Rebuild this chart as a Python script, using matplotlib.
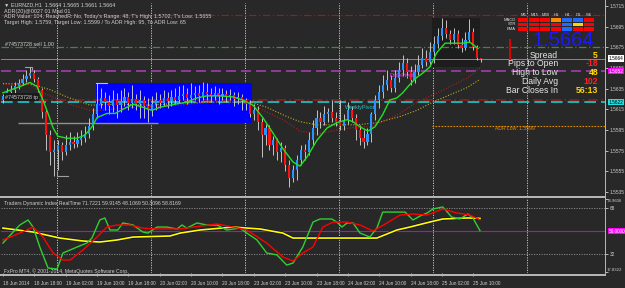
import numpy as np
import matplotlib
matplotlib.use('Agg')
import matplotlib.pyplot as plt
import matplotlib.transforms as mtransforms
from matplotlib.patches import Rectangle

plt.rcParams['font.family'] = ['Liberation Sans', 'DejaVu Sans']

# ========== 数据 ==========
time_labels = ['18 Jun 2014', '18 Jun 18:00', '19 Jun 02:00', '19 Jun 10:00', '19 Jun 18:00',
               '20 Jun 02:00', '20 Jun 10:00', '20 Jun 18:00', '23 Jun 02:00', '23 Jun 10:00',
               '23 Jun 18:00', '24 Jun 02:00', '24 Jun 10:00', '24 Jun 18:00', '25 Jun 02:00',
               '25 Jun 10:00']
time_label_bars = [0, 8, 16, 24, 32, 40, 48, 56, 64, 72, 80, 88, 96, 104, 112, 120]
day_start_bars = [14, 38, 62, 86, 110, 134]

first_open = 1.5624
closes = [1.5628, 1.5632, 1.5634, 1.5638, 1.5640, 1.5644, 1.5647, 1.5650, 1.5644, 1.5634,
          1.5612, 1.5590, 1.5574, 1.5576, 1.5580, 1.5574, 1.5580, 1.5583, 1.5581, 1.5585,
          1.5587, 1.5591, 1.5599, 1.5610, 1.5620, 1.5626, 1.5622, 1.5618, 1.5624, 1.5619,
          1.5623, 1.5627, 1.5621, 1.5625, 1.5620, 1.5624, 1.5618, 1.5614, 1.5620, 1.5624,
          1.5621, 1.5626, 1.5623, 1.5627, 1.5624, 1.5628, 1.5630, 1.5626, 1.5629, 1.5631,
          1.5628, 1.5632, 1.5630, 1.5628, 1.5631, 1.5628, 1.5630, 1.5627, 1.5629, 1.5625,
          1.5627, 1.5624, 1.5620, 1.5610, 1.5614, 1.5603, 1.5590, 1.5597, 1.5580, 1.5585,
          1.5574, 1.5578, 1.5561, 1.5549, 1.5556, 1.5566, 1.5576, 1.5574, 1.5585, 1.5597,
          1.5607, 1.5603, 1.5610, 1.5612, 1.5607, 1.5603, 1.5599, 1.5605, 1.5614, 1.5607,
          1.5595, 1.5587, 1.5583, 1.5591, 1.5610, 1.5624, 1.5632, 1.5639, 1.5643, 1.5636,
          1.5645, 1.5653, 1.5660, 1.5651, 1.5643, 1.5651, 1.5658, 1.5665, 1.5661, 1.5670,
          1.5678, 1.5686, 1.5694, 1.5688, 1.5682, 1.5688, 1.5677, 1.5674, 1.5682, 1.5690,
          1.5675, 1.5665, 1.5664]
highs = [1.5630, 1.5636, 1.5639, 1.5641, 1.5644, 1.5649, 1.5653, 1.5656, 1.5653, 1.5646,
         1.5636, 1.5614, 1.5595, 1.5585, 1.5585, 1.5583, 1.5590, 1.5593, 1.5589, 1.5593,
         1.5595, 1.5599, 1.5607, 1.5616, 1.5640, 1.5636, 1.5632, 1.5629, 1.5634, 1.5631,
         1.5634, 1.5636, 1.5632, 1.5639, 1.5630, 1.5634, 1.5628, 1.5626, 1.5628, 1.5632,
         1.5630, 1.5634, 1.5632, 1.5634, 1.5636, 1.5638, 1.5639, 1.5636, 1.5640, 1.5638,
         1.5639, 1.5641, 1.5640, 1.5636, 1.5638, 1.5636, 1.5636, 1.5634, 1.5635, 1.5632,
         1.5632, 1.5630, 1.5626, 1.5624, 1.5620, 1.5618, 1.5607, 1.5601, 1.5600, 1.5589,
         1.5587, 1.5583, 1.5580, 1.5566, 1.5561, 1.5571, 1.5580, 1.5581, 1.5593, 1.5605,
         1.5614, 1.5612, 1.5618, 1.5616, 1.5624, 1.5612, 1.5624, 1.5610, 1.5622, 1.5618,
         1.5610, 1.5600, 1.5595, 1.5597, 1.5612, 1.5629, 1.5639, 1.5648, 1.5653, 1.5648,
         1.5653, 1.5661, 1.5668, 1.5665, 1.5657, 1.5659, 1.5668, 1.5674, 1.5672, 1.5680,
         1.5686, 1.5694, 1.5703, 1.5701, 1.5692, 1.5694, 1.5692, 1.5684, 1.5690, 1.5702,
         1.5694, 1.5677, 1.5665]
lows = [1.5621, 1.5626, 1.5629, 1.5631, 1.5635, 1.5639, 1.5641, 1.5645, 1.5641, 1.5632,
        1.5607, 1.5576, 1.5561, 1.5550, 1.5556, 1.5566, 1.5571, 1.5576, 1.5578, 1.5579,
        1.5580, 1.5583, 1.5587, 1.5595, 1.5607, 1.5616, 1.5614, 1.5610, 1.5612, 1.5607,
        1.5612, 1.5618, 1.5614, 1.5616, 1.5614, 1.5607, 1.5607, 1.5603, 1.5609, 1.5614,
        1.5616, 1.5618, 1.5616, 1.5618, 1.5620, 1.5621, 1.5624, 1.5620, 1.5622, 1.5624,
        1.5622, 1.5624, 1.5624, 1.5622, 1.5624, 1.5620, 1.5624, 1.5622, 1.5624, 1.5618,
        1.5620, 1.5614, 1.5614, 1.5608, 1.5605, 1.5595, 1.5569, 1.5580, 1.5576, 1.5571,
        1.5566, 1.5564, 1.5555, 1.5540, 1.5545, 1.5547, 1.5561, 1.5566, 1.5571, 1.5580,
        1.5590, 1.5597, 1.5600, 1.5603, 1.5603, 1.5599, 1.5595, 1.5595, 1.5601, 1.5603,
        1.5585, 1.5580, 1.5578, 1.5580, 1.5583, 1.5605, 1.5616, 1.5626, 1.5634, 1.5632,
        1.5632, 1.5641, 1.5647, 1.5645, 1.5639, 1.5640, 1.5648, 1.5655, 1.5657, 1.5657,
        1.5660, 1.5674, 1.5682, 1.5684, 1.5678, 1.5678, 1.5674, 1.5670, 1.5672, 1.5680,
        1.5672, 1.5663, 1.5661]

# 均线（读图取点）
ma_fast_bars = [0, 4.3, 6.9, 8.7, 10.2, 11.5, 12.8, 14.0, 16.3, 18.9, 20.9, 22.7, 24.0, 26.5,
                28.6, 30.6, 33.2, 35.7, 38.0, 40.1, 42.6, 46.9, 49.5, 52.0, 55.4, 58.7, 61.2,
                63.8, 66.3, 68.9, 71.4, 74.0, 75.8, 77.6, 80.1, 82.7, 85.2, 87.8, 89.3, 91.1,
                93.1, 94.9, 96.9, 98.7, 100.5, 102.0, 103.8, 105.6, 107.1, 108.9, 110.7, 112.8,
                114.8, 117.3, 119.1, 121.2]
ma_fast = [1.5631, 1.5637, 1.5641, 1.5637, 1.5624, 1.5611, 1.5597, 1.5589, 1.5587, 1.5587,
           1.5590, 1.5598, 1.5607, 1.5611, 1.5611, 1.5615, 1.5620, 1.5617, 1.5614, 1.5617,
           1.5619, 1.5622, 1.5626, 1.5628, 1.5628, 1.5627, 1.5624, 1.5619, 1.5607, 1.5592,
           1.5577, 1.5564, 1.5560, 1.5569, 1.5585, 1.5597, 1.5602, 1.5605, 1.5603, 1.5598,
           1.5594, 1.5598, 1.5610, 1.5624, 1.5626, 1.5631, 1.5639, 1.5646, 1.5650, 1.5656,
           1.5670, 1.5679, 1.5679, 1.5679, 1.5680, 1.5674]
ma_mid_bars = [0, 6.9, 10.2, 16.3, 22.2, 24.7, 33.2, 41.8, 50.3, 58.7, 64.8, 71.4, 75.8, 80.1,
               85.2, 90.3, 93.6, 96.9, 101.3, 105.6, 109.7, 114.0, 118.4, 121.7]
ma_mid = [1.5639, 1.5639, 1.5631, 1.5621, 1.5614, 1.5614, 1.5617, 1.5618, 1.5621, 1.5624,
          1.5617, 1.5605, 1.5594, 1.5591, 1.5595, 1.5598, 1.5598, 1.5603, 1.5611, 1.5622,
          1.5629, 1.5637, 1.5645, 1.5655]
ma_slow_bars = [0, 7.7, 12.0, 16.3, 22.2, 29.1, 37.5, 45.9, 54.6, 63.0, 67.3, 72.4, 75.8, 80.1,
                85.2, 90.3, 95.4, 101.3, 105.6, 109.7, 114.0, 118.4, 121.7]
ma_slow = [1.5640, 1.5639, 1.5634, 1.5627, 1.5619, 1.5620, 1.5619, 1.5621, 1.5622, 1.5622,
           1.5617, 1.5608, 1.5603, 1.5600, 1.5600, 1.5600, 1.5602, 1.5608, 1.5614, 1.5622,
           1.5629, 1.5636, 1.5644]

# 水平线
stop_loss = 1.5706
sell_open = 1.5675
last_price = 1.5664
daily_pivot = 1.5652
take_profit = 1.5624
weekly_pivot = 1.5622
adr_low = 1.5599
price_ticks = [1.5715, 1.5695, 1.5675, 1.5655, 1.5635, 1.5615, 1.5595, 1.5575, 1.5555, 1.5535]

# TDI 指标
tdi_max = 74.9606
tdi_min = 17.8322
tdi_levels = [68, 32]
tdi_green_bars = [0, 2.6, 4.3, 6.4, 7.7, 9.4, 11.5, 13.8, 15.3, 18.9, 21.4, 22.7, 24.7, 26.0,
                  27.3, 29.3, 30.6, 33.2, 35.7, 37.0, 39.3, 41.8, 44.4, 45.7, 46.9, 49.5, 52.0,
                  54.6, 57.1, 60.5, 62.2, 64.8, 67.3, 69.9, 72.4, 74.0, 76.5, 79.1, 80.9, 83.9,
                  85.2, 86.5, 87.8, 89.3, 91.1, 93.6, 95.4, 96.9, 98.7, 102.6, 104.6, 106.4,
                  108.2, 109.7, 112.2, 114.5, 116.6, 118.6, 119.9, 121.7]
tdi_green = [40.6, 49.2, 54.7, 58.6, 53.1, 37.5, 21.1, 20.3, 32.8, 37.5, 40.6, 44.5, 58.6, 60.2,
             50.8, 50.8, 56.3, 54.7, 49.2, 48.4, 53.1, 53.1, 51.6, 54.7, 52.3, 56.3, 54.7, 54.7,
             50.8, 52.3, 48.4, 43.0, 32.8, 31.3, 23.4, 25.0, 37.5, 57.0, 59.4, 59.4, 57.0, 53.1,
             56.3, 56.3, 48.4, 45.3, 52.3, 64.8, 64.8, 64.8, 58.6, 61.7, 64.1, 67.2, 68.8, 60.9,
             59.4, 63.3, 60.2, 50.3]
tdi_red_bars = [0, 4.3, 7.7, 10.2, 12.8, 15.3, 17.1, 20.4, 24.0, 26.5, 29.1, 32.4, 35.7, 39.3,
                45.2, 48.5, 54.6, 58.7, 62.2, 67.3, 71.4, 74.0, 76.5, 79.1, 81.6, 84.2, 87.8,
                91.1, 94.4, 98.0, 101.3, 104.6, 108.2, 112.2, 115.8, 119.1, 121.7]
tdi_red = [43.0, 48.4, 53.1, 45.3, 32.8, 27.3, 27.3, 35.2, 45.3, 53.1, 54.7, 54.7, 52.3, 51.6,
           51.6, 53.1, 55.5, 53.1, 50.8, 40.6, 29.7, 26.6, 32.8, 37.5, 53.1, 57.0, 57.0, 54.7,
           50.0, 56.3, 62.5, 63.3, 62.5, 67.2, 64.1, 62.5, 58.8]
tdi_yellow_bars = [0, 7.7, 14.5, 20.4, 24.7, 29.1, 33.2, 42.6, 45.2, 50.3, 58.7, 65.6, 71.4,
                   74.0, 80.9, 95.4, 100.5, 103.8, 108.9, 112.2, 118.4, 121.7]
tdi_yellow = [52.3, 49.2, 44.5, 42.2, 41.4, 43.0, 45.3, 46.1, 48.4, 50.8, 53.1, 51.6, 48.4, 44.5,
              44.5, 44.5, 50.8, 53.1, 57.0, 59.4, 60.2, 59.9]

# 右侧面板
tf_names = ['M5', 'M15', 'M30', 'H1', 'H4', 'D1', 'W1']
tf_rows = ['MACD', 'STR', 'EMA']
tf_colors = [['#ff0000', '#ff0000', '#ff0000', '#ff8c00', '#1e6bff', '#1e6bff', '#ff0000'],
             ['#ff0000', '#ff0000', '#ff0000', '#ff0000', '#1e6bff', '#ffd700', '#ff0000'],
             ['#ff0000', '#ff0000', '#ff0000', '#ff0000', '#1e6bff', '#ff0000', '#ff0000']]
info_names = ['Spread', 'Pips to Open', 'High to Low', 'Daily Avg', 'Bar Closes In']
info_values = ['5', '-18', '48', '102', '56:13']
info_colors = ['#ffd700', '#ff2020', '#ffd700', '#ff2020', '#ffd700']

# ========== 绘图 ==========
W, H = 625, 288
BG = '#282828'
TXT = '#d0d0d0'
SMALL = 3.4

fig = plt.figure(figsize=(W / 100, H / 100), dpi=100, facecolor=BG)


def px_axes(x0, y0, x1, y1):
    return fig.add_axes([x0 / W, 1 - y1 / H, (x1 - x0) / W, (y1 - y0) / H])


def ftext(x, y, s, **kw):
    kw.setdefault('color', TXT)
    kw.setdefault('fontsize', 3.9)
    kw.setdefault('va', 'center')
    return fig.text(x / W, 1 - y / H, s, **kw)


ax = px_axes(1, 3, 605, 196)
ax2 = px_axes(1, 198, 605, 273)
for a in (ax, ax2):
    a.set_facecolor(BG)
    for s in a.spines.values():
        s.set_visible(False)
    a.set_xlim(-0.5, 153.6)
ax.set_ylim(1.55311, 1.57179)
ax2.set_ylim(17.2, 75.8)

# 网格竖线
for b in day_start_bars:
    for a in (ax, ax2):
        a.axvline(b - 0.2, color='#d8d8d8', lw=0.6, ls=(0, (1.5, 1.5)), zorder=1)

# 蓝色矩形和暗色框
ax.add_patch(Rectangle((23.7, 1.5602), 39.8, 0.0038, color='#0000ff', zorder=1.5, lw=0))
ax.add_patch(Rectangle((109.4, 1.5656), 12.3, 0.0047, color='#1d1d1d', zorder=1.2, lw=0))
ax.hlines(1.5602, 3.8, 39.5, color='#909090', lw=1.0, zorder=2)
ax.plot([5.6, 7.4, 7.4], [1.5656, 1.5656, 1.5652], color='#a0a0a0', lw=0.8, zorder=2)
ax.plot([13.8, 13.8, 16.6], [1.5554, 1.5550, 1.5550], color='#a0a0a0', lw=0.8, zorder=2)
ax.plot([23.7, 26.5], [1.5640, 1.5640], color='#c0c0c0', lw=0.8, zorder=2)

# 水平线
ax.axhline(stop_loss, color='#a01818', lw=0.9, ls=(0, (6, 2, 1, 2)), zorder=2)
ax.axhline(sell_open, color='#3c8a3c', lw=0.9, ls=(0, (6, 2, 1, 2)), zorder=2)
ax.axhline(last_price, color='#8a8a8a', lw=0.7, zorder=2)
ax.axhline(daily_pivot, color='#a040a8', lw=1.2, ls=(0, (6, 3)), zorder=2)
ax.axhline(take_profit, color='#8a1e1e', lw=1.2, ls=(0, (6, 2, 1, 2)), zorder=2)
ax.axhline(weekly_pivot, color='#20c8c8', lw=1.2, ls=(0, (7, 3)), zorder=2)
ax.hlines(adr_low, 109.4, 154, color='#e08a00', lw=0.8, ls=(0, (1.5, 1.2)), zorder=2)
ax.vlines(129.3, 1.5661, 1.5683, color='#e00000', lw=1.4, zorder=2)

# 均线
ax.plot(ma_slow_bars, ma_slow, color='#b8b020', lw=0.8, ls=(0, (1, 1.5)), zorder=2.5)
ax.plot(ma_mid_bars, ma_mid, color='#b02020', lw=0.8, ls=(0, (1, 1.5)), zorder=2.5)

# K线
o = np.array([first_open] + closes[:-1])
c = np.array(closes)
idx = np.arange(len(c))
up = c > o
dn = c < o
ax.vlines(idx, lows, highs, color='#c4c4c4', lw=0.7, zorder=3)
ax.bar(idx[up], (c - o)[up], bottom=o[up], width=0.55, color='#2894ff', lw=0, zorder=4)
ax.bar(idx[dn], (c - o)[dn], bottom=o[dn], width=0.55, color='#ff1010', lw=0, zorder=4)
dj = c == o
ax.hlines(c[dj], idx[dj] - 0.4, idx[dj] + 0.4, color='#00ff00', lw=1.0, zorder=4)

ax.plot(ma_fast_bars, ma_fast, color='#22e022', lw=1.0, zorder=5)

# 图上文字
ax.text(87.2, 1.5617, 'WeeklyPivot', color='#20c8c8', fontsize=4.0, va='center', zorder=6)
ax.text(98.5, 1.5648, 'DailyPivot', color='#e040e0', fontsize=4.0, va='center', zorder=6)
ax.text(125.5, 1.5596, 'ADR Low: 1.5599', color='#e08a00', fontsize=3.7, va='center', zorder=6)

# 右侧价格刻度
ax.yaxis.tick_right()
ax.set_yticks(price_ticks)
ax.set_yticklabels([f'{p:.4f}' for p in price_ticks])
ax.tick_params(axis='y', colors=TXT, labelsize=SMALL, length=2, width=0.6, pad=1.2)
ax.tick_params(axis='x', bottom=False, labelbottom=False)
tr = mtransforms.blended_transform_factory(ax.transAxes, ax.transData)
for val, fc, tc in [(last_price, '#ffffff', '#000000'), (daily_pivot, '#ff00ff', '#ffffff'),
                    (weekly_pivot, '#20e0e0', '#000000')]:
    ax.text(1.0055, val, f'{val:.4f}', transform=tr, fontsize=SMALL, color=tc, va='center',
            bbox=dict(boxstyle='square,pad=0.15', fc=fc, ec='none'), clip_on=False, zorder=10)

# 指标窗口
for lv in tdi_levels:
    ax2.axhline(lv, color='#909090', lw=0.6, ls=(0, (1.5, 1.5)))
ax2.axhline(50, color='#c800c8', lw=0.8)
ax2.plot(tdi_yellow_bars, tdi_yellow, color='#101030', lw=2.2, zorder=3)
ax2.plot(tdi_yellow_bars, tdi_yellow, color='#ffff00', lw=1.2, zorder=3.1)
ax2.plot(tdi_green_bars, tdi_green, color='#30d030', lw=1.0, zorder=4)
ax2.plot(tdi_red_bars, tdi_red, color='#ff0000', lw=1.0, zorder=4)
ax2.yaxis.tick_right()
ax2.set_yticks([tdi_max] + tdi_levels + [tdi_min])
ax2.set_yticklabels([''] + [str(v) for v in tdi_levels] + [''])
ax2.tick_params(axis='y', colors=TXT, labelsize=SMALL, length=2, width=0.6, pad=1.2)
tr2 = mtransforms.blended_transform_factory(ax2.transAxes, ax2.transData)
ax2.text(1.0035, tdi_max, f'{tdi_max:.4f}', transform=tr2, fontsize=3.1, color=TXT,
         va='top', clip_on=False)
ax2.text(1.0035, tdi_min, f'{tdi_min:.4f}', transform=tr2, fontsize=3.1, color=TXT,
         va='bottom', clip_on=False)
ax2.text(1.0055, 50, '50.0000', transform=tr2, fontsize=SMALL, color='#ffffff', va='center',
         bbox=dict(boxstyle='square,pad=0.15', fc='#ff00ff', ec='none'), clip_on=False)
ax2.set_xticks(time_label_bars)
ax2.set_xticklabels(time_labels, ha='left')
ax2.tick_params(axis='x', colors=TXT, labelsize=SMALL, length=2, width=0.6, pad=3.5)

# 边框
fig.add_artist(Rectangle((0, 1 - 198 / H), 605 / W, 2 / H, transform=fig.transFigure,
                         color='#b4b4b4', lw=0))
fig.add_artist(Rectangle((0, 1 - 275.5 / H), 605 / W, 2 / H, transform=fig.transFigure,
                         color='#b4b4b4', lw=0))
fig.add_artist(Rectangle((604.5 / W, 1 - 276 / H), 1.2 / W, 276 / H, transform=fig.transFigure,
                         color='#b4b4b4', lw=0))

# 左上文字
ftext(4, 5, '\u25bc EURNZD,H1  1.5664 1.5665 1.5661 1.5664')
ftext(4, 11, 'ADR(20)@0027 01 Mad 01')
ftext(4, 16.5, "ADR Value: 104, ReachedR: No, Today's Range: 48, T's High: 1.5702, T's Low: 1.5655")
ftext(4, 22.5, 'Target High: 1.5759, Target Low: 1.5599 / To ADR High: 95, To ADR Low: 65')
ftext(5, 44, '#74573728 sell 1.00')
ftext(5, 97, '#74573728 tp', bbox=dict(boxstyle='square,pad=0.2', fc='#1a1a1a', ec='none'))
ftext(4, 203, 'Traders Dynamic Index RealTime 71.7221 59.9145 48.1069 50.3096 58.8169',
      fontsize=3.7)
ftext(4, 271, 'FxPro MT4, \u00a9 2001-2014, MetaQuotes Software Corp.', fontsize=3.7)

# 右上面板
cx0, cw = 518, 11
for j, name in enumerate(tf_names):
    ftext(cx0 + cw * j + cw / 2, 15, name, ha='center', fontsize=3.0, color='#e0e0e0')
for r, rname in enumerate(tf_rows):
    ftext(516, 20 + 4.3 * r, rname, ha='right', fontsize=3.0, color='#e0e0e0')
    for j in range(len(tf_names)):
        fig.add_artist(Rectangle(((cx0 + cw * j) / W, 1 - (22 + 4.3 * r) / H), (cw - 0.6) / W,
                                 3.6 / H, transform=fig.transFigure, color=tf_colors[r][j], lw=0))
ftext(594, 41, '1.5664', ha='right', fontsize=14.5, color='#1a1aff')
for k, (nm, v, vc) in enumerate(zip(info_names, info_values, info_colors)):
    yy = 55 + 8.8 * k
    ftext(558, yy, nm, ha='right', fontsize=6.2, color='#e8e8e8')
    ftext(598, yy, v, ha='right', fontsize=6.2, color=vc, fontweight='bold')

fig.savefig('out.png', dpi=100, facecolor=BG)
